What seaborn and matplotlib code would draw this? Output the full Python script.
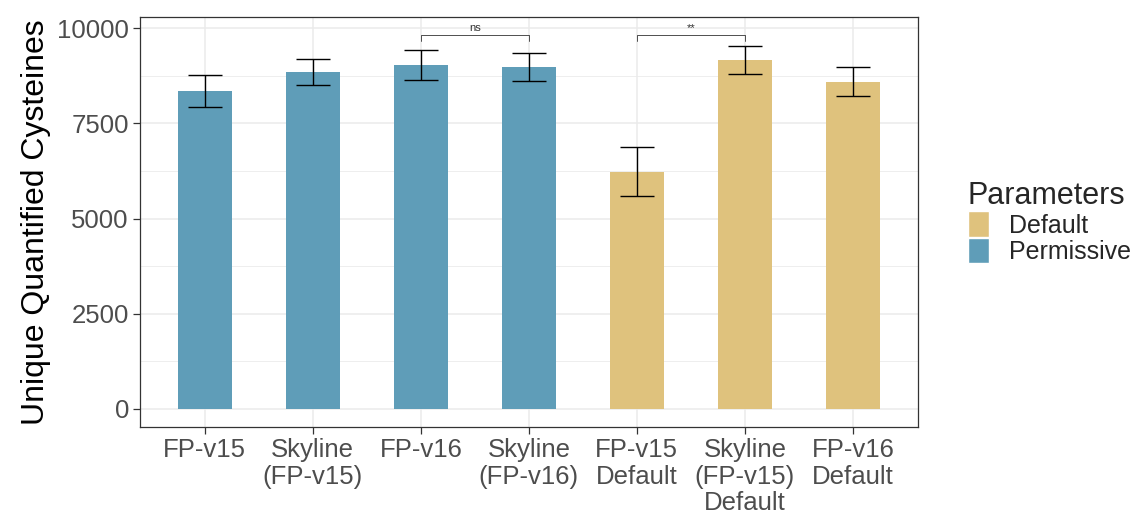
import matplotlib
matplotlib.use("Agg")
import matplotlib.pyplot as plt
import seaborn as sns
import pandas as pd
import numpy as np
from matplotlib.patches import Patch

categories = ["FP-v15", "Skyline\n(FP-v15)", "FP-v16", "Skyline\n(FP-v16)",
              "FP-v15\nDefault", "Skyline\n(FP-v15)\nDefault", "FP-v16\nDefault"]
parameters = ["Permissive", "Permissive", "Permissive", "Permissive",
              "Default", "Default", "Default"]
means = [8350, 8850, 9030, 8975, 6230, 9170, 8590]
errors = [430, 340, 390, 370, 650, 370, 380]
brackets = [(2, 3, "ns"), (4, 5, "**")]
bracket_y = 9820
palette = {"Default": "#DFC27D", "Permissive": "#5F9DB8"}

df = pd.DataFrame({"Method": categories, "Parameters": parameters, "Count": means})

sns.set_theme(style="white")
plt.rcParams['font.family'] = ['Liberation Sans', 'DejaVu Sans']

fig = plt.figure(figsize=(11.4, 5.19), dpi=100)
ax = fig.add_axes([0.1228, 0.177, 0.805 - 0.1228, 0.967 - 0.177])

sns.barplot(data=df, x="Method", y="Count", hue="Parameters", order=categories,
            palette=palette, dodge=False, width=0.5, ax=ax, legend=False,
            saturation=1, zorder=3, linewidth=0)

xs = np.arange(len(categories))
ax.errorbar(xs, means, yerr=errors, fmt="none", ecolor="black", elinewidth=1.0,
            capsize=12, capthick=1.0, zorder=4)

for i, j, lab in brackets:
    ax.plot([i, i, j, j], [bracket_y - 150, bracket_y, bracket_y, bracket_y - 150],
            color="#333333", lw=0.6, zorder=5)
    ax.text((i + j) / 2, bracket_y + 60, lab, ha="center", va="bottom",
            fontsize=8, color="#333333")

ax.set_xlim(-0.6, 6.6)
ax.set_ylim(-480, 10290)
ax.set_yticks([0, 2500, 5000, 7500, 10000])
ax.set_yticks([1250, 3750, 6250, 8750], minor=True)
ax.grid(True, which="major", color="#EBEBEB", lw=1.1, zorder=0)
ax.grid(True, which="minor", axis="y", color="#EBEBEB", lw=0.6, zorder=0)
ax.set_axisbelow(True)
for s in ax.spines.values():
    s.set_color("#333333")
    s.set_linewidth(0.9)
ax.tick_params(axis="both", which="major", length=5, width=0.9, color="#333333",
               labelsize=18.5, labelcolor="#4D4D4D", pad=3, bottom=True, left=True)
ax.tick_params(axis="both", which="minor", length=0)
for t in ax.get_xticklabels():
    t.set_linespacing(1.12)
ax.set_xlabel("")
ax.set_ylabel("Unique Quantified Cysteines", fontsize=23, color="black", labelpad=4)

handles = [Patch(facecolor=palette["Default"], label="Default"),
           Patch(facecolor=palette["Permissive"], label="Permissive")]
leg = fig.legend(handles=handles, title="Parameters", loc="upper left",
                 bbox_to_anchor=(0.84, 0.67), frameon=False, fontsize=18,
                 title_fontsize=22, handlelength=0.85, handleheight=1.2,
                 labelspacing=0.0, handletextpad=0.8, borderaxespad=0)
leg._legend_box.align = "left"

fig.savefig("out.png", dpi=100)
